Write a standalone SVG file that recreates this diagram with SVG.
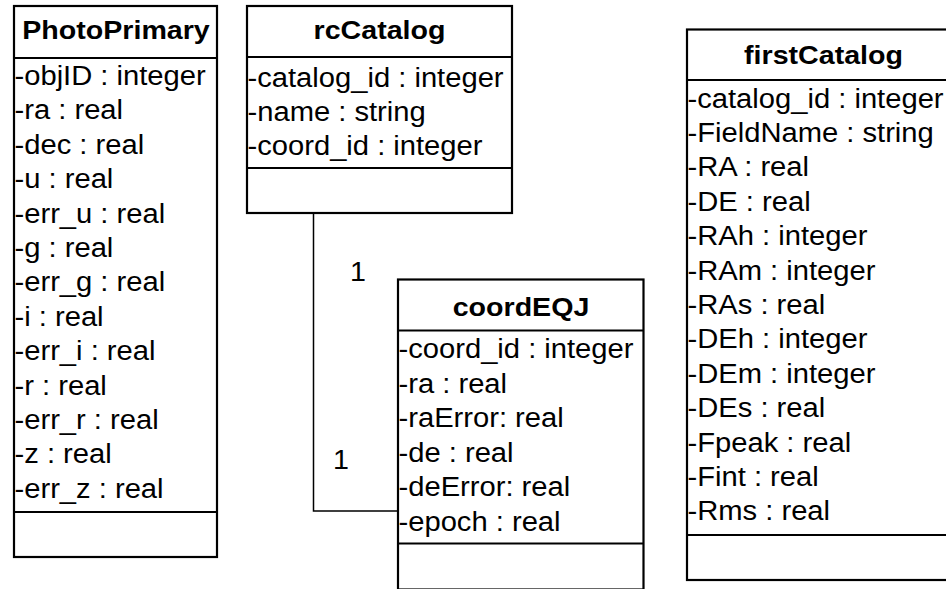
<svg xmlns="http://www.w3.org/2000/svg" width="946" height="589" viewBox="0 0 946 589">
<style>
.box{fill:#fff;stroke:#000;stroke-width:2.2}
.ln{fill:none;stroke:#000;stroke-width:2.2}
.con{fill:none;stroke:#000;stroke-width:1.5}
text{font-family:"Liberation Sans",Arial,sans-serif;font-size:27px;fill:#000}
.h{font-weight:bold;text-anchor:middle;font-size:26px}
</style>
<rect width="946" height="589" fill="#fff"/>
<g id="connectors">
<polyline class="con" points="313.5,213 313.5,511 398,511"/>
<text transform="translate(350,281) scale(1.06,1)">1</text>
<text transform="translate(333,469) scale(1.06,1)">1</text>
</g>
<g id="PhotoPrimary">
<rect class="box" x="14" y="6" width="203" height="551"/>
<line class="ln" x1="14" y1="58" x2="217" y2="58"/>
<line class="ln" x1="14" y1="512" x2="217" y2="512"/>
<text class="h" transform="translate(116,39) scale(1.1,1)">PhotoPrimary</text>
<text transform="translate(14.5,85) scale(1.08,1)">-objID : integer</text>
<text transform="translate(14.5,119.4) scale(1.08,1)">-ra : real</text>
<text transform="translate(14.5,153.8) scale(1.08,1)">-dec : real</text>
<text transform="translate(14.5,188.2) scale(1.08,1)">-u : real</text>
<text transform="translate(14.5,222.6) scale(1.08,1)">-err_u : real</text>
<text transform="translate(14.5,257) scale(1.08,1)">-g : real</text>
<text transform="translate(14.5,291.4) scale(1.08,1)">-err_g : real</text>
<text transform="translate(14.5,325.8) scale(1.08,1)">-i : real</text>
<text transform="translate(14.5,360.2) scale(1.08,1)">-err_i : real</text>
<text transform="translate(14.5,394.6) scale(1.08,1)">-r : real</text>
<text transform="translate(14.5,429) scale(1.08,1)">-err_r : real</text>
<text transform="translate(14.5,463.4) scale(1.08,1)">-z : real</text>
<text transform="translate(14.5,497.8) scale(1.08,1)">-err_z : real</text>
</g>
<g id="rcCatalog">
<rect class="box" x="247" y="6" width="265" height="207"/>
<line class="ln" x1="247" y1="57" x2="512" y2="57"/>
<line class="ln" x1="247" y1="168" x2="512" y2="168"/>
<text class="h" transform="translate(379.5,39) scale(1.1,1)">rcCatalog</text>
<text transform="translate(247.5,87) scale(1.08,1)">-catalog_id : integer</text>
<text transform="translate(247.5,121) scale(1.08,1)">-name : string</text>
<text transform="translate(247.5,155) scale(1.08,1)">-coord_id : integer</text>
</g>
<g id="coordEQJ">
<rect class="box" x="398" y="279.5" width="245.5" height="310"/>
<line class="ln" x1="398" y1="330.5" x2="643.5" y2="330.5"/>
<line class="ln" x1="398" y1="543.5" x2="643.5" y2="543.5"/>
<text class="h" transform="translate(521,316) scale(1.1,1)">coordEQJ</text>
<text transform="translate(398.5,358) scale(1.08,1)">-coord_id : integer</text>
<text transform="translate(398.5,392.5) scale(1.08,1)">-ra : real</text>
<text transform="translate(398.5,427) scale(1.08,1)">-raError: real</text>
<text transform="translate(398.5,461.5) scale(1.08,1)">-de : real</text>
<text transform="translate(398.5,496) scale(1.08,1)">-deError: real</text>
<text transform="translate(398.5,530.5) scale(1.08,1)">-epoch : real</text>
</g>
<g id="firstCatalog">
<rect class="box" x="687" y="29.5" width="273" height="550.5"/>
<line class="ln" x1="687" y1="80" x2="960" y2="80"/>
<line class="ln" x1="687" y1="535" x2="960" y2="535"/>
<text class="h" transform="translate(823.5,64) scale(1.1,1)">firstCatalog</text>
<text transform="translate(687.5,107.5) scale(1.08,1)">-catalog_id : integer</text>
<text transform="translate(687.5,141.9) scale(1.08,1)">-FieldName : string</text>
<text transform="translate(687.5,176.3) scale(1.08,1)">-RA : real</text>
<text transform="translate(687.5,210.7) scale(1.08,1)">-DE : real</text>
<text transform="translate(687.5,245.1) scale(1.08,1)">-RAh : integer</text>
<text transform="translate(687.5,279.5) scale(1.08,1)">-RAm : integer</text>
<text transform="translate(687.5,313.9) scale(1.08,1)">-RAs : real</text>
<text transform="translate(687.5,348.3) scale(1.08,1)">-DEh : integer</text>
<text transform="translate(687.5,382.7) scale(1.08,1)">-DEm : integer</text>
<text transform="translate(687.5,417.1) scale(1.08,1)">-DEs : real</text>
<text transform="translate(687.5,451.5) scale(1.08,1)">-Fpeak : real</text>
<text transform="translate(687.5,485.9) scale(1.08,1)">-Fint : real</text>
<text transform="translate(687.5,520.3) scale(1.08,1)">-Rms : real</text>
</g>
</svg>
